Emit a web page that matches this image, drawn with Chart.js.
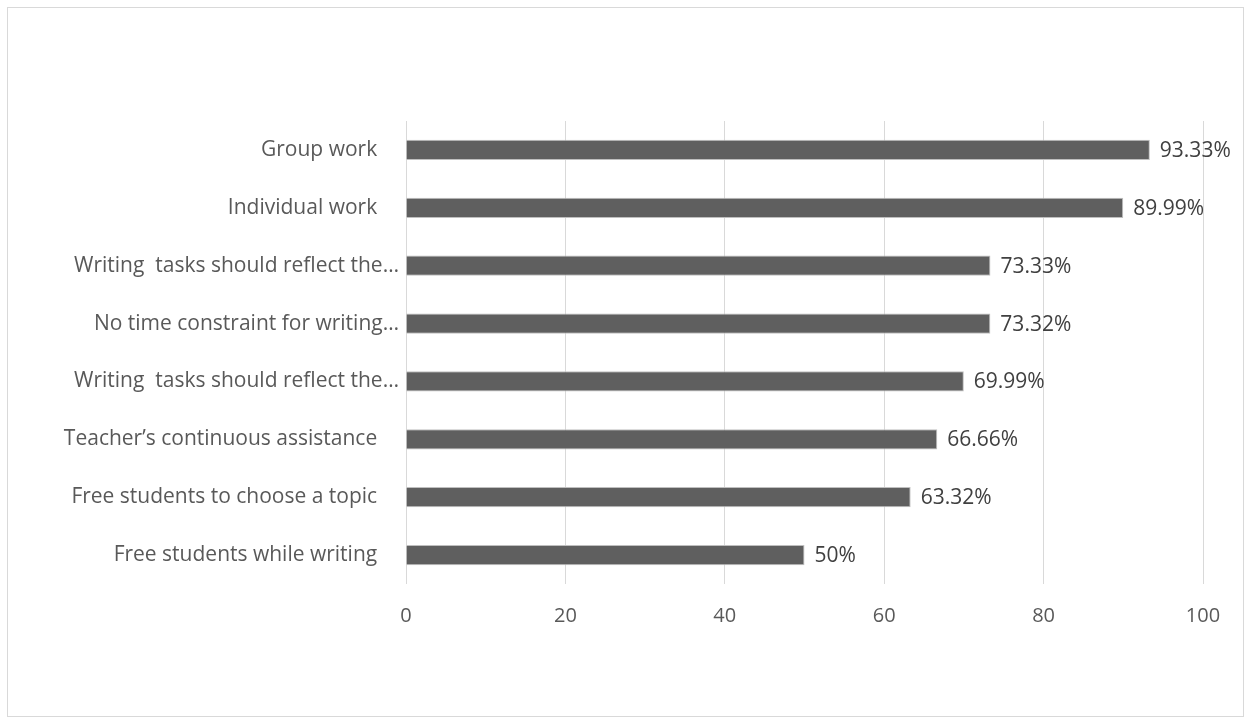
<!DOCTYPE html>
<html>
<head>
<meta charset="utf-8">
<script src="https://cdn.jsdelivr.net/npm/chart.js@4"></script>
<style>
  html, body { margin: 0; padding: 0; background: #fff; }
  #wrap { position: relative; width: 1251px; height: 724px; }
  #frame { position: absolute; left: 7px; top: 7px; width: 1235px; height: 708px; border: 1px solid #d9d9d9; }
  #myChart { position: absolute; left: 0; top: 0; }
</style>
</head>
<body>
<div id="wrap">
  <div id="frame"></div>
  <canvas id="myChart" width="1251" height="724"></canvas>
</div>
<script>
const categories = [
    'Group work',
    'Individual work',
    'Writing  tasks should reflect the\u2026',
    'No time constraint for writing\u2026',
    'Writing  tasks should reflect the\u2026',
    'Teacher\u2019s continuous assistance',
    'Free students to choose a topic',
    'Free students while writing'
];
const percentages = [93.33, 89.99, 73.33, 73.32, 69.99, 66.66, 63.32, 50];
const xTicks = [0, 20, 40, 60, 80, 100];

document.addEventListener('DOMContentLoaded', function() {
    const ctx = document.getElementById('myChart');

    // value labels just past the bar ends
    const barLabels = {
        id: 'barLabels',
        afterDatasetsDraw(chart) {
            const c = chart.ctx;
            const meta = chart.getDatasetMeta(0);
            c.save();
            c.font = '21px "Open Sans"';
            c.fillStyle = '#404040';
            c.textBaseline = 'middle';
            c.textAlign = 'left';
            meta.data.forEach((bar, i) => {
                c.fillText(percentages[i] + '%', bar.x + 10, bar.y + 1);
            });
            c.restore();
        }
    };

    const config = {
        type: 'bar',
        data: {
            labels: categories,
            datasets: [{
                data: percentages,
                backgroundColor: '#5f5f5f',
                borderColor: '#bfbfbf',
                borderWidth: 1,
                categoryPercentage: 1,
                barPercentage: 0.35
            }]
        },
        options: {
            indexAxis: 'y',
            responsive: false,
            animation: false,
            layout: { padding: { left: 0, right: 48, top: 121, bottom: 100 } },
            plugins: {
                legend: { display: false },
                tooltip: { enabled: false }
            },
            scales: {
                x: {
                    min: 0,
                    max: 100,
                    afterBuildTicks: (scale) => { scale.ticks = xTicks.map(v => ({ value: v })); },
                    afterFit: (scale) => { scale.height = 40; },
                    grid: { color: '#d9d9d9', lineWidth: 1, drawTicks: false },
                    border: { display: false },
                    ticks: {
                        padding: 20,
                        color: '#595959',
                        maxRotation: 0,
                        font: { family: '"Open Sans"', size: 20 }
                    }
                },
                y: {
                    afterFit: (scale) => { scale.width = 406; },
                    grid: { display: false, drawTicks: false },
                    border: { display: false },
                    ticks: {
                        padding: 7,
                        color: '#595959',
                        font: { family: '"Open Sans"', size: 21 },
                        // full labels sit a little left of the truncated ones
                        callback: function(value) {
                            const text = this.getLabelForValue(value);
                            return text.endsWith('\u2026') ? text : text + '    ';
                        }
                    }
                }
            }
        }
    };

    new Chart(ctx, { ...config, plugins: [barLabels] });
});
</script>
</body>
</html>
